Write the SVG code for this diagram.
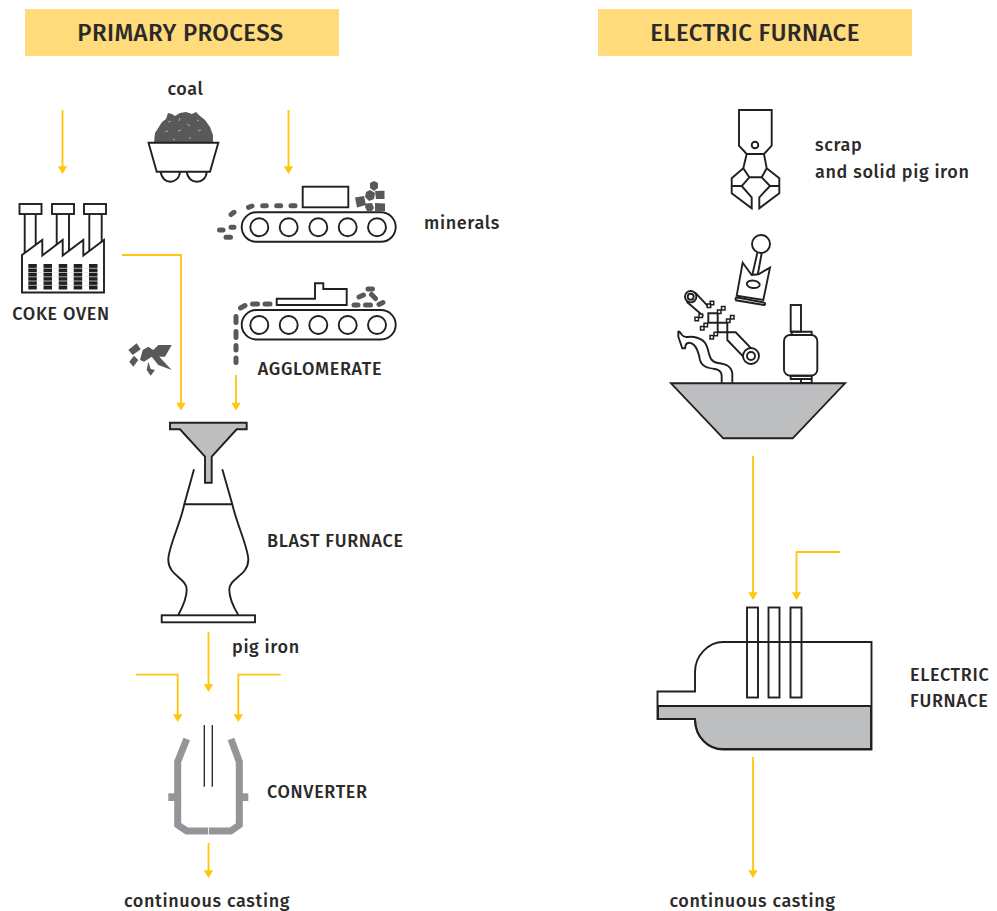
<svg xmlns="http://www.w3.org/2000/svg" width="997" height="911" viewBox="0 0 997 911">
<style>
text{font-family:"Fira Sans","Noto Sans","Open Sans",sans-serif;font-weight:500;fill:#2b2a29}
.t{font-size:18px;letter-spacing:.65px}
.h{font-size:24px;letter-spacing:.4px}
.y{fill:none;stroke:#ffc60b;stroke-width:1.8}
.l{fill:none;stroke:#231f20;stroke-width:1.9;stroke-linejoin:miter}
.lw{fill:#fff;stroke:#231f20;stroke-width:1.9}
.lg{fill:#bcbec0;stroke:#231f20;stroke-width:1.9}
.d{fill:#58595b}
.ds{fill:none;stroke:#58595b;stroke-width:5;stroke-linecap:round}
</style>
<defs>
<path id="ah" d="M-4.700 -7.700H4.700L0 0Z" fill="#ffc60b"/>
</defs>

<g id="header-primary"><rect x="25" y="9" width="314" height="47" fill="#ffdb7b"/><text class="h" x="180.500" y="41" text-anchor="middle">PRIMARY PROCESS</text></g>
<g id="header-electric"><rect x="598" y="9" width="314" height="47" fill="#ffdb7b"/><text class="h" x="755" y="41" text-anchor="middle">ELECTRIC FURNACE</text></g>

<g id="connectors">
<path class="y" d="M62.500 110V168"/><use href="#ah" x="62.500" y="174"/>
<path class="y" d="M288.500 110V168"/><use href="#ah" x="288.500" y="174"/>
<path class="y" d="M122 255H181V404"/><use href="#ah" x="181" y="410.500"/>
<path class="y" d="M236 375V404"/><use href="#ah" x="236" y="410.500"/>
<path class="y" d="M208.500 632V686"/><use href="#ah" x="208.500" y="692"/>
<path class="y" d="M136 674.700H177.700V715"/><use href="#ah" x="177.700" y="722"/>
<path class="y" d="M280.700 674.700H238.300V715"/><use href="#ah" x="238.300" y="722"/>
<path class="y" d="M208.500 843V871"/><use href="#ah" x="208.500" y="878"/>
<path class="y" d="M753 456V593"/><use href="#ah" x="753" y="600"/>
<path class="y" d="M840 552H796.500V593"/><use href="#ah" x="796.500" y="600"/>
<path class="y" d="M753 757V871"/><use href="#ah" x="753" y="878"/>
</g>

<g id="coal">
<path class="d" d="M154 143L155 133L162 122L166 119L168 113L172 114L175 116L180 113L186 112L192 114L196 112L200 116L205 120L210 127L213 135L213 143Z"/>
<path stroke="#bcbec0" stroke-width=".8" d="M168 122l3-1M180 118l-1 3M187 124l3 2M197 120l2 1M165 132l3-1M178 131l3-1M198 131l3-1M173 139l2 1M189 139l2-2"/>
<path class="lw" d="M148.500 142.700H218.300L210 171.700H156.700Z"/>
<path class="l" d="M160.700 171.700C162 185 179 185 180 171.700M186.700 171.700C188 185 206 185 206.700 171.700"/>
<text class="t" x="185.500" y="95" text-anchor="middle">coal</text>
</g>

<g id="coke-oven">
<path class="l" d="M24.700 214V256M35.700 214V256M56.700 214V256M69 214V256M89.300 214V256M101.700 214V256"/>
<rect x="19.500" y="204" width="22" height="10" class="lw"/><rect x="52" y="204" width="22" height="10" class="lw"/><rect x="84" y="204" width="22" height="10" class="lw"/>
<path class="lw" d="M22 255L42.300 240V255.500L62.700 240V255.500L83.300 240V255.500L104 240V292.500H22Z"/>
<g fill="#231f20"><rect x="28.300" y="264" width="8.500" height="25.500"/><rect x="43.500" y="264" width="8.500" height="25.500"/><rect x="58.700" y="264" width="8.500" height="25.500"/><rect x="73.700" y="264" width="8.500" height="25.500"/><rect x="89" y="264" width="8.500" height="25.500"/></g>
<path stroke="#e6e7e8" stroke-width=".7" d="M28 268.300H98M28 272.500H98M28 276.800H98M28 281H98M28 285.300H98"/>
<text class="t" x="61" y="320" text-anchor="middle">COKE OVEN</text>
</g>

<g id="minerals">
<rect x="241.700" y="212.300" width="154" height="29.500" rx="14.700" class="lw"/>
<circle cx="259.300" cy="227.300" r="9" class="lw"/><circle cx="288.700" cy="227.300" r="9" class="lw"/><circle cx="318.300" cy="227.300" r="9" class="lw"/><circle cx="347.700" cy="227.300" r="9" class="lw"/><circle cx="377" cy="227.300" r="9" class="lw"/>
<rect x="302.700" y="186.700" width="45.600" height="20.600" class="lw"/>
<path class="ds" d="M248.500 207.300L252 206M262.700 205.700H266.300M276.700 205.700H280.700M291 205.700H295M231 214.500L234 212.300M219.500 230H223M231 227.300H234M226 237.300H230.500"/>
<path class="d" d="M374 181L378 183L378 188L374 191L370 188L370 183ZM370 190L375 193L374 199L369 201L365 197L366 192ZM375 191L384.500 190.700L384.500 199L376 199ZM355 197.500L364 196L366 205L357 207.500ZM366 203.500L372 203L374 208L372 211L367 211L365 207ZM375 203L385 203.500L385 211L375 211Z"/>
<text class="t" x="424" y="229">minerals</text>
</g>

<g id="agglomerate">
<rect x="241.700" y="310" width="154" height="29.500" rx="14.700" class="lw"/>
<circle cx="259.300" cy="325" r="9" class="lw"/><circle cx="288.700" cy="325" r="9" class="lw"/><circle cx="318.300" cy="325" r="9" class="lw"/><circle cx="347.700" cy="325" r="9" class="lw"/><circle cx="377" cy="325" r="9" class="lw"/>
<path class="lw" d="M276.700 305V298.700H315V283.300H323.300V289H346.700V305Z"/>
<path class="ds" d="M240.500 308L245 305.500M252.500 304H257.500M265 304H270M236 316.500V322.500M236 331.500V337.500M236 345.500V350M236 358V362.500M354 305H358M365.500 305H370.500M379 304.500L383 302.500M359 297L363.500 295M371.500 294.500L375.500 298.500M368 289H372.500"/>
<text class="t" x="320" y="375" text-anchor="middle">AGGLOMERATE</text>
</g>

<g id="coke-pieces" class="d">
<path d="M128.300 350L136.700 343.300L140.700 349.300L132.700 355ZM129.300 361.700L134 355.700L138.300 360L133.300 366.700ZM140 360L142.700 350L148.300 346.700L153.300 350L158.300 345L171.700 345L165 356.700L159.300 356.700L171.700 370L158.300 365L151.700 356.700L144 361.700ZM148.300 361.700L146.700 370L150.700 375.700L155 370L150.700 369Z"/>
</g>

<g id="blast-furnace">
<path class="lg" d="M170 422.700H246.700V429.300H236.700L211.700 456.700V482.700H205V456.700L180 429.300H170Z"/>
<path class="l" d="M194 469.300L184.300 504.300C180 525 168 548 168.300 560C168.500 576 187 578 186.700 590C186.500 600 182 608 178.300 615M222.300 469.300L232.300 504.300C237 525 248.500 548 248.300 560C248 576 229 578 229.300 590C229.500 600 234 608 238.300 615M184.300 504.300H232.300"/>
<rect x="161.700" y="615.300" width="93.300" height="7" class="lw"/>
<text class="t" x="267" y="547">BLAST FURNACE</text>
<text class="t" x="232" y="653">pig iron</text>
</g>

<g id="converter">
<path fill="none" stroke="#939598" stroke-width="7" d="M186.700 739L177.700 761.700V825L186.700 831H230.700L239.300 825V761.700L231 739"/>
<rect x="168.300" y="793.300" width="8" height="7.700" fill="#939598"/><rect x="240.300" y="793.300" width="8" height="7.700" fill="#939598"/>
<path d="M208.500 827V835" stroke="#fff" stroke-width=".8"/>
<path class="l" style="stroke-width:1.300" d="M204.300 725V786.700M212.300 725V786.700"/>
<text class="t" x="267" y="798">CONVERTER</text>
<text class="t" x="207" y="907" text-anchor="middle">continuous casting</text>
</g>

<g id="scrap">
<path class="l" d="M739 110H771.700V145.700L764 154H746.700L739 145.700ZM746.700 154L743.300 168.300L749.300 177.300H761.700L766.700 168.300L764 154M743.300 168.300L731.700 178.300V193.300L751.700 208.300V197.300L741.700 186H731.700M741.700 186L749.300 177.300M766.700 168.300L779.300 178.300V193.300L759.300 208.300V197.300L770 186H779.300M770 186L761.700 177.300"/>
<circle cx="755" cy="145" r="3.300" class="l"/>
<text class="t" x="815" y="151">scrap</text><text class="t" x="815" y="178">and solid pig iron</text>
</g>

<g id="scrap-items">
<circle cx="761" cy="244" r="9" class="l"/>
<path class="l" d="M757.300 253L752.300 275M761.700 253L757.700 275"/>
<path class="lw" d="M742.700 262.700L751.700 275L758.300 274.300L770 267.700L763.300 300L736.700 295.700Z"/>
<ellipse cx="753.300" cy="284.300" rx="6.500" ry="3.700" class="l" transform="rotate(6 753.300 284.300)"/>
<path class="lw" d="M737.500 297.500L764 302.500Q766.500 304 764 305L736 300.300Q734.500 297.500 737.500 297.500Z"/>
<circle cx="690.700" cy="296.700" r="5.700" class="l"/><circle cx="690.700" cy="296.700" r="3" class="l"/>
<path class="l" d="M695 292.300L708.300 306.700M686.700 301.700L703.300 316"/>
<path class="l" d="M727.300 332.300H735.700L753.300 350.700M727.300 332.300V340L744 357.300"/>
<circle cx="751" cy="356" r="8" class="lw"/><circle cx="751" cy="356" r="4" class="l"/>
<path class="lw" d="M708.300 313.300H717.700V322.700H708.300ZM717.700 322.700H727.300V332.300H717.700Z"/>
<path fill="#fff" stroke="#231f20" stroke-width="1.500" d="M710.200 301.200h3.500v3.500h-3.500zM707.200 304h3.500v3.500h-3.500zM721.500 306.500h3.500v3.500h-3.500zM717.500 310h3.500v3.500h-3.500zM730.500 315.500h3.500v3.500h-3.500zM726.500 319h3.500v3.500h-3.500zM699 314h3.500v3.500h-3.500zM695 317.200h3.500v3.500h-3.500zM704 323.200h3.500v3.500h-3.500zM700.500 326.500h3.500v3.500h-3.500zM714 332.200h3.500v3.500h-3.500zM710 335.500h3.500v3.500h-3.500z"/>
<path class="l" d="M732.300 382.700V373.300C731 366 726 364 718 363C711 362 710 358 708 350C706 342 703 339 694 337C687 336 685 339 682 335C680 332 679 331 678.300 331.700V336.700L682.300 348.300H685L685.700 345C687 342 691 342 694 345C698 349 699 355 700 360C702 367 708 368 715 369C720 370 721.700 372 721.700 376V382.700"/>
<rect x="790.700" y="305" width="10.300" height="26.700" class="l"/>
<path class="l" d="M791.700 331.700H811.700V335H791.700Z"/>
<rect x="784" y="335" width="33.300" height="40.700" rx="6" class="l"/>
<path class="l" d="M790.700 375.700H811.700V379H790.700ZM801 379H811.700V383H801Z"/>
<path class="lg" d="M671 383.300H845L792.700 438.300H723.300Z"/>
</g>

<g id="electric-furnace">
<path class="lg" stroke="none" d="M658 706H871V749H723C709 749 695 738 695 719H658Z"/>
<path class="l" d="M657.500 691.500H695V672C695 655 709 642 723 642H871.500V749.500H723C709 749.500 695 738 695 719H657.500ZM657.500 706H871.500"/>
<g class="l"><rect x="747" y="607.500" width="11" height="90"/><rect x="768.500" y="607.500" width="11" height="90"/><rect x="790.500" y="607.500" width="11" height="90"/></g>
<text class="t" x="910" y="681">ELECTRIC</text><text class="t" x="910" y="707">FURNACE</text>
<text class="t" x="752.500" y="907" text-anchor="middle">continuous casting</text>
</g>
</svg>
